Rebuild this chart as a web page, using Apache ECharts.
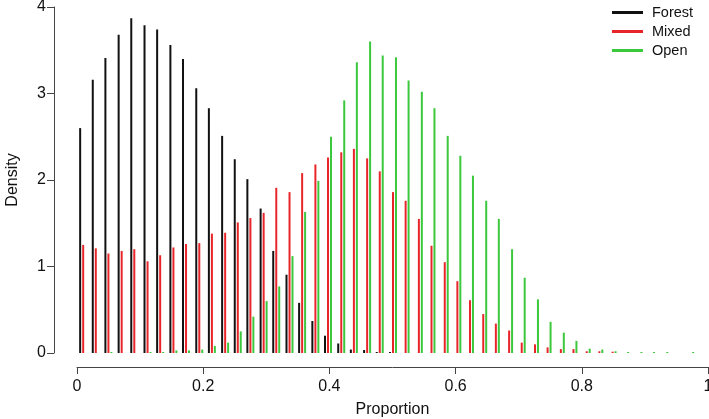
<!DOCTYPE html>
<html>
<head>
<meta charset="utf-8">
<script src="https://cdn.jsdelivr.net/npm/echarts@6/dist/echarts.min.js"></script>
<style>html,body{margin:0;padding:0;background:#fff}#c{width:709px;height:419px}</style>
</head>
<body>
<div id="c"></div>
<script>
// bin positions (proportion) (Forest bars; Mixed and Open drawn just right of them)
const binX = [0.005,0.025,0.045,0.066,0.086,0.107,0.127,0.148,0.168,0.189,0.209,0.230,0.250,0.270,0.291,0.311,0.332,0.352,0.373,0.393,0.414,0.434,0.455,0.475,0.496,0.516,0.537,0.557,0.578,0.598,0.618,0.639,0.659,0.680,0.700,0.721,0.741,0.762,0.782,0.803,0.823,0.844,0.864,0.885,0.905,0.926,0.946,0.967];
const forest = [2.60,3.16,3.41,3.68,3.87,3.79,3.74,3.56,3.40,3.06,2.83,2.51,2.24,2.01,1.67,1.18,0.905,0.58,0.37,0.20,0.11,0.04,0.035,0.01,0.01,null,null,null,null,null,null,null,null,null,null,null,null,null,null,null,null,null,null,null,null,null,null,null];
const mixed = [1.25,1.21,1.15,1.18,1.20,1.06,1.13,1.22,1.26,1.27,1.38,1.39,1.51,1.56,1.62,1.91,1.86,2.08,2.18,2.26,2.32,2.36,2.25,2.10,1.86,1.76,1.55,1.24,1.05,0.83,0.61,0.45,0.34,0.26,0.12,0.10,0.065,0.045,0.045,0.02,0.02,0.015,null,null,null,null,null,null];
const open = [null,null,0.01,null,null,0.01,0.01,0.03,0.03,0.04,0.08,0.12,0.25,0.42,0.60,0.77,1.12,1.63,1.99,2.50,2.92,3.36,3.60,3.44,3.42,3.15,3.02,2.83,2.51,2.28,2.05,1.76,1.55,1.20,0.87,0.62,0.36,0.235,0.14,0.05,0.04,0.02,0.01,0.01,0.01,0.01,null,0.01];
const xTicks = [0,0.2,0.4,0.6,0.8,1];
const yTicks = [0,1,2,3,4];
const seriesNames = ['Forest','Mixed','Open'];

const dodge = [0, 0.0048, 0.0095];
const colors = ['#111111','#e8262a','#3cc83c'];
const vals = [forest, mixed, open];

function pts(v, off){
  const out = [];
  for (let i=0;i<binX.length;i++){ if (v[i]!==null) out.push([+(binX[i]+off).toFixed(4), v[i]]); }
  return out;
}
const font = 'Liberation Sans, Arial, sans-serif';
const chart = echarts.init(document.getElementById('c'), null, {renderer:'canvas'});
chart.setOption({
  animation:false,
  backgroundColor:'#fff',
  grid:{left:77, right:1, top:7, bottom:66, containLabel:false, outerBoundsMode:'none'},
  legend:{
    orient:'vertical', left:612, top:5, padding:0, itemWidth:31, itemHeight:3, itemGap:4,
    icon:'rect', data:seriesNames,
    textStyle:{fontFamily:font, fontSize:14.5, lineHeight:14.5, color:'#111', padding:[0,0,0,4]}
  },
  xAxis:{
    type:'value', min:xTicks[0], max:xTicks[xTicks.length-1], interval:0.2, offset:14,
    name:'Proportion', nameLocation:'middle', nameGap:35,
    nameTextStyle:{fontFamily:font, fontSize:16, color:'#111'},
    axisLine:{show:true, onZero:false, lineStyle:{color:'#444', width:1}},
    axisTick:{show:true, length:7, lineStyle:{color:'#444'}},
    axisLabel:{fontFamily:font, fontSize:16, color:'#111', margin:12},
    splitLine:{show:false}
  },
  yAxis:{
    type:'value', min:yTicks[0], max:yTicks[yTicks.length-1], interval:1, offset:23,
    name:'Density', nameLocation:'middle', nameGap:33,
    nameTextStyle:{fontFamily:font, fontSize:16, color:'#111'},
    axisLine:{show:true, onZero:false, lineStyle:{color:'#444', width:1}},
    axisTick:{show:true, length:7, lineStyle:{color:'#444'}},
    axisLabel:{fontFamily:font, fontSize:16, color:'#111', margin:8},
    splitLine:{show:false}
  },
  series: seriesNames.map((n,i)=>({
    name:n, type:'bar', barWidth:2, barGap:'-100%', barMinHeight:1,
    itemStyle:{color:colors[i]},
    data:pts(vals[i], dodge[i])
  }))
});
</script>
</body>
</html>
